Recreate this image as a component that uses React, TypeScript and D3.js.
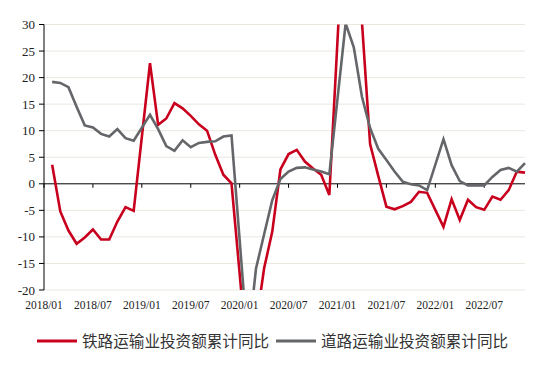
import * as d3 from "d3";

// monthly cumulative YoY (%), January not published
const months = [
  "2018/02", "2018/03", "2018/04", "2018/05", "2018/06", "2018/07", "2018/08", "2018/09", "2018/10", "2018/11", "2018/12",
  "2019/02", "2019/03", "2019/04", "2019/05", "2019/06", "2019/07", "2019/08", "2019/09", "2019/10", "2019/11", "2019/12",
  "2020/02", "2020/03", "2020/04", "2020/05", "2020/06", "2020/07", "2020/08", "2020/09", "2020/10", "2020/11", "2020/12",
  "2021/02", "2021/03", "2021/04", "2021/05", "2021/06", "2021/07", "2021/08", "2021/09", "2021/10", "2021/11", "2021/12",
  "2022/02", "2022/03", "2022/04", "2022/05", "2022/06", "2022/07", "2022/08", "2022/09", "2022/10", "2022/11", "2022/12",
];

const railway = [
  3.6, -5.2, -8.8, -11.3, -10.1, -8.6, -10.5, -10.5, -7.1, -4.4, -5.1,
  22.7, 11.1, 12.3, 15.2, 14.2, 12.8, 11.2, 10.0, 5.5, 1.7, 0.1,
  -34.0, -26.7, -15.9, -9.0, 2.7, 5.6, 6.4, 4.2, 2.9, 1.7, -2.1,
  56.0, 45.0, 30.5, 7.5, 1.5, -4.3, -4.8, -4.2, -3.4, -1.5, -1.7,
  -8.1, -2.9, -6.8, -3.0, -4.4, -4.9, -2.4, -3.0, -1.2, 2.3, 2.1,
];

const road = [
  19.2, 19.0, 18.2, 14.5, 11.0, 10.6, 9.4, 8.9, 10.3, 8.6, 8.1,
  13.0, 10.3, 7.1, 6.2, 8.2, 6.9, 7.7, 7.9, 8.0, 8.9, 9.1,
  -30.3, -16.0, -9.5, -3.1, 0.9, 2.3, 3.0, 3.1, 2.7, 2.3, 1.8,
  30.2, 25.7, 16.4, 10.5, 6.6, 4.5, 2.3, 0.4, -0.1, -0.3, -1.2,
  8.4, 3.5, 0.5, -0.3, -0.3, -0.3, 1.3, 2.6, 3.0, 2.3, 3.9,
];

const xTickLabels = [
  "2018/01", "2018/07", "2019/01", "2019/07", "2020/01",
  "2020/07", "2021/01", "2021/07", "2022/01", "2022/07",
];
const yTicks = [30, 25, 20, 15, 10, 5, 0, -5, -10, -15, -20];

const seriesNames = ["铁路运输业投资额累计同比", "道路运输业投资额累计同比"];
const colors = ["#c8001e", "#646669"];

const left = 44;
const right = 525;
const top = 24.5;
const bottom = 290;

const serif = { fontFamily: "Liberation Serif, Times New Roman, serif" };

// month string -> months since 2018/01
const monthIndex = (s: string) => {
  const [yy, mm] = s.split("/").map(Number);
  return (yy - 2018) * 12 + (mm - 1);
};

export default function App() {
  const x = d3.scaleLinear().domain([0, 59]).range([left, right]);
  const y = d3.scaleLinear().domain([-20, 30]).range([bottom, top]);

  const line = d3
    .line<number>()
    .x((_, i) => x(monthIndex(months[i])))
    .y((d) => y(d));

  const series = [railway, road];

  return (
    <svg
      width={550}
      height={369}
      style={{ position: "absolute", left: 0, top: 0, background: "#fff" }}
    >
      <defs>
        <clipPath id="plot">
          <rect x={left} y={top} width={right - left + 4} height={bottom - top} />
        </clipPath>
      </defs>

      {/* grid */}
      {yTicks
        .filter((t) => t !== 0)
        .map((t) => (
          <line key={t} x1={left} x2={right} y1={y(t)} y2={y(t)} stroke="#ebe7df" strokeWidth={1} />
        ))}

      {/* y axis */}
      <line x1={left} x2={left} y1={top} y2={bottom} stroke="#000" strokeWidth={1} />
      {yTicks.map((t) => (
        <g key={t}>
          <line x1={left - 5} x2={left} y1={y(t)} y2={y(t)} stroke="#000" />
          <text x={35} y={y(t)} dy="0.35em" textAnchor="end" style={serif} fontSize={13} fill="#222">
            {t}
          </text>
        </g>
      ))}

      {/* x axis at zero */}
      <line x1={left} x2={right} y1={y(0)} y2={y(0)} stroke="#000" strokeWidth={1} />
      {xTickLabels.map((lab) => {
        const px = x(monthIndex(lab));
        return (
          <g key={lab}>
            <line x1={px} x2={px} y1={y(0)} y2={y(0) + 4} stroke="#000" />
            <text x={px} y={308.5} textAnchor="middle" style={serif} fontSize={11.5} fill="#222">
              {lab}
            </text>
          </g>
        );
      })}

      {/* lines */}
      <g clipPath="url(#plot)">
        {series.map((s, k) => (
          <path key={k} d={line(s) ?? ""} fill="none" stroke={colors[k]} strokeWidth={2.6} />
        ))}
      </g>

      {/* legend */}
      {seriesNames.map((name, k) => {
        const lx = k === 0 ? 37 : 276;
        return (
          <g key={name}>
            <line x1={lx} x2={lx + 40} y1={341} y2={341} stroke={colors[k]} strokeWidth={3} />
            <text
              x={lx + 45}
              y={341}
              dy="0.36em"
              fontFamily="Noto Sans CJK SC, sans-serif"
              fontSize={15.6}
              fill="#333"
            >
              {name}
            </text>
          </g>
        );
      })}
    </svg>
  );
}
